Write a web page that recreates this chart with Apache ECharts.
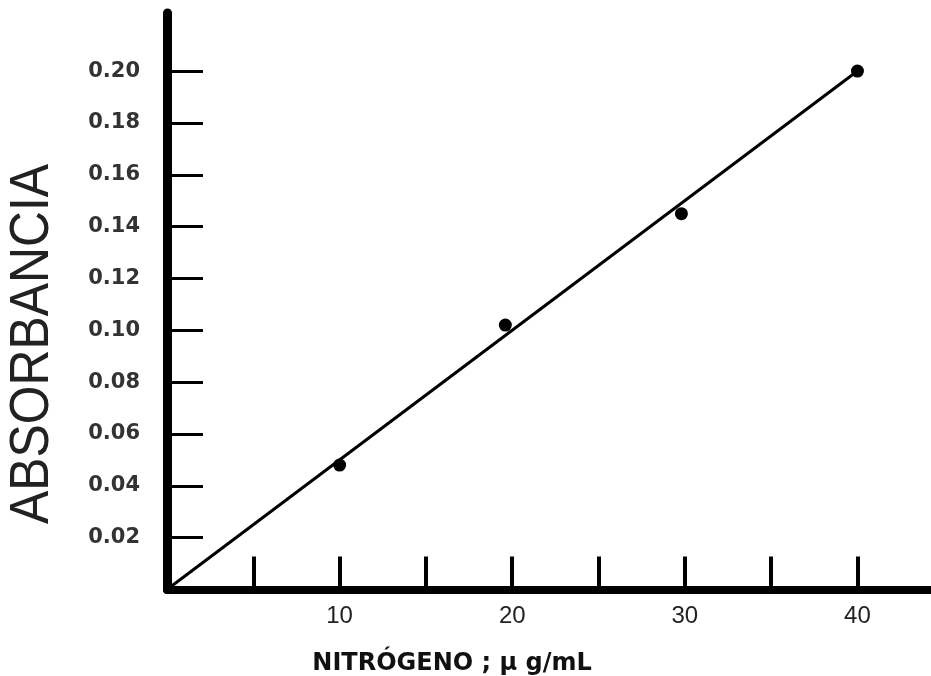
<!DOCTYPE html>
<html>
<head>
<meta charset="utf-8">
<script src="https://cdn.jsdelivr.net/npm/echarts@6/dist/echarts.min.js"></script>
<style>
html,body{margin:0;padding:0;background:#fff;}
#chart{width:931px;height:676px;}
</style>
</head>
<body>
<div id="chart"></div>
<script>
// Data
var concentration = [10, 19.6, 29.8, 40];          // NITRÓGENO, µg/mL
var absorbance = [0.048, 0.102, 0.145, 0.2];       // ABSORBANCIA
var fitX = [0, 40];                                 // calibration line ends
var fitY = [0, 0.2];
var yTickValues = [0.02, 0.04, 0.06, 0.08, 0.10, 0.12, 0.14, 0.16, 0.18, 0.20];
var xTickValues = [5, 10, 15, 20, 25, 30, 35, 40];
var xLabelValues = [10, 20, 30, 40];
var yTitle = 'ABSORBANCIA';
var xTitle = 'NITRÓGENO ; µ g/mL';

var chart = echarts.init(document.getElementById('chart'), null, {renderer: 'canvas'});

var points = concentration.map(function (c, i) { return [c, absorbance[i]]; });
var fit = fitX.map(function (x, i) { return [x, fitY[i]]; });

var option = {
  backgroundColor: '#ffffff',
  animation: false,
  grid: {left: 167, right: 0, top: 13, bottom: 86.5, containLabel: false},
  xAxis: {
    type: 'value',
    min: 0,
    max: 44.26,
    axisLine: {show: true, onZero: false, lineStyle: {color: '#000', width: 8}},
    axisTick: {show: true, inside: true, length: 33, customValues: xTickValues,
      lineStyle: {color: '#000', width: 4}},
    axisLabel: {
      show: true, margin: 15, color: '#222', fontSize: 24,
      fontFamily: 'Liberation Sans, Arial, sans-serif',
      customValues: xLabelValues,
      formatter: function (v) { return String(v); }
    },
    splitLine: {show: false}
  },
  yAxis: {
    type: 'value',
    min: 0,
    max: 0.2224,
    axisLine: {show: true, onZero: false, lineStyle: {color: '#000', width: 9}},
    axisTick: {show: true, inside: true, length: 36, customValues: yTickValues,
      lineStyle: {color: '#000', width: 3}},
    axisLabel: {
      show: true, margin: 27, color: '#333', fontSize: 21, fontWeight: 'bold',
      fontFamily: 'DejaVu Sans, sans-serif',
      customValues: yTickValues,
      formatter: function (v) { return v.toFixed(2); }
    },
    splitLine: {show: false}
  },
  graphic: [
    {
      type: 'text',
      x: 33, y: 344,
      rotation: Math.PI / 2,
      scaleX: 0.89,
      style: {
        text: yTitle,
        fill: '#222',
        font: '56px "Liberation Sans", Arial, sans-serif',
        textAlign: 'center',
        textVerticalAlign: 'middle'
      }
    },
    {
      type: 'text',
      x: 452, y: 664,
      style: {
        text: xTitle,
        fill: '#111',
        font: 'bold 24px "DejaVu Sans", sans-serif',
        textAlign: 'center',
        textVerticalAlign: 'middle'
      }
    }
  ],
  series: [
    {
      type: 'line',
      data: fit,
      symbol: 'none',
      lineStyle: {color: '#000', width: 3},
      z: 2
    },
    {
      type: 'scatter',
      data: points,
      symbol: 'circle',
      symbolSize: 13,
      itemStyle: {color: '#000', opacity: 1},
      z: 3
    }
  ]
};
chart.setOption(option);
</script>
</body>
</html>
